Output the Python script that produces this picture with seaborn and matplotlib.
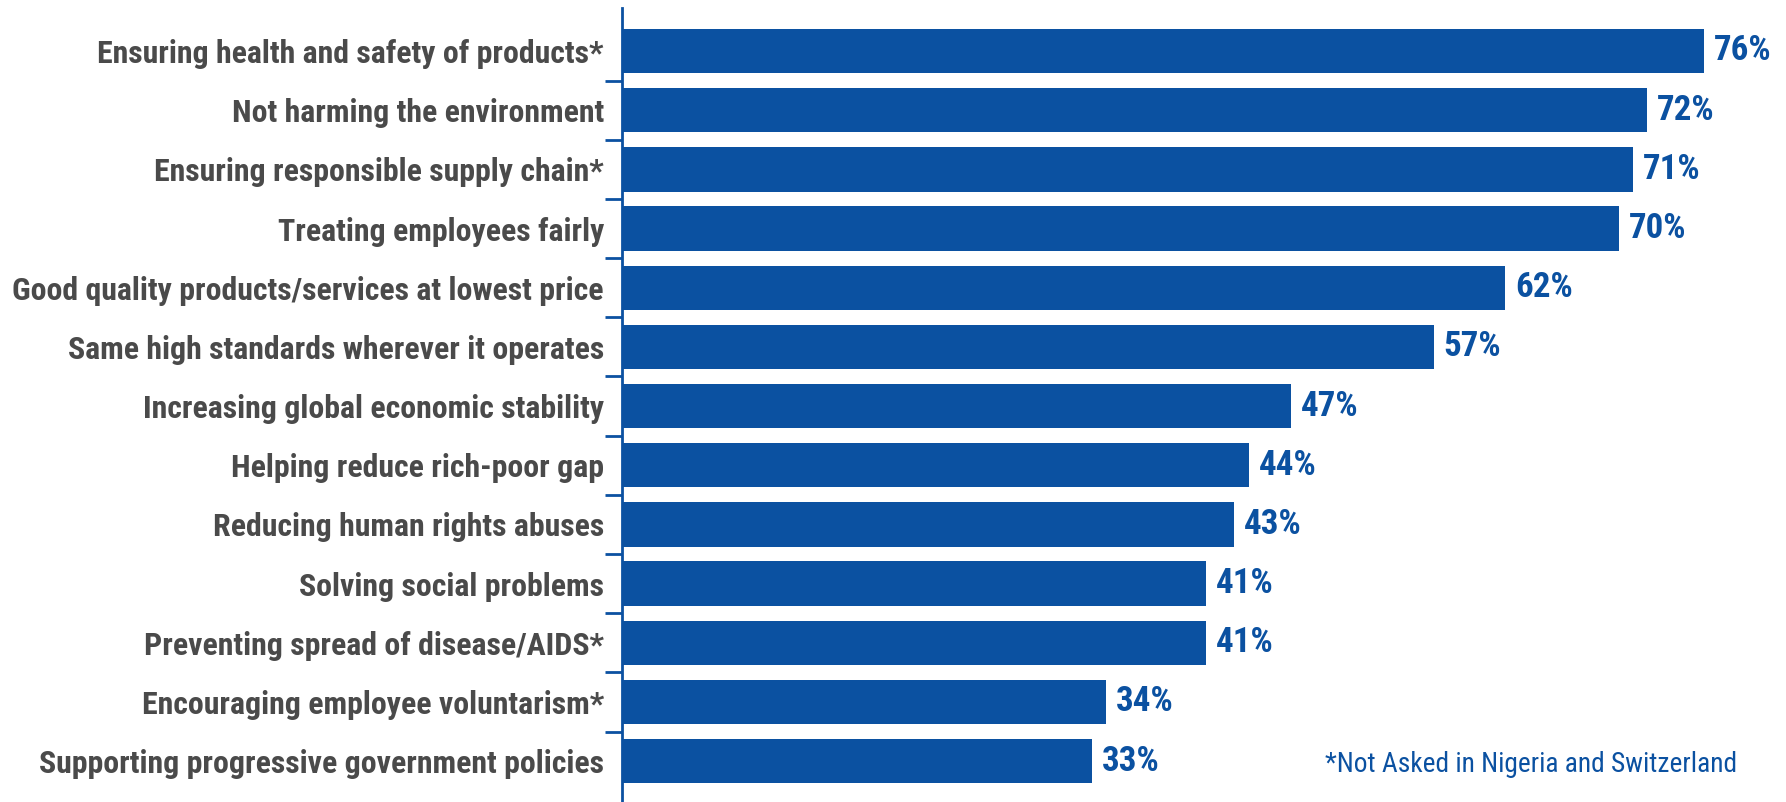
import matplotlib
matplotlib.use("Agg")
import matplotlib.pyplot as plt
import seaborn as sns
import pandas as pd
from matplotlib import font_manager as fm

categories = [
    "Ensuring health and safety of products*",
    "Not harming the environment",
    "Ensuring responsible supply chain*",
    "Treating employees fairly",
    "Good quality products/services at lowest price",
    "Same high standards wherever it operates",
    "Increasing global economic stability",
    "Helping reduce rich-poor gap",
    "Reducing human rights abuses",
    "Solving social problems",
    "Preventing spread of disease/AIDS*",
    "Encouraging employee voluntarism*",
    "Supporting progressive government policies",
]
values = [76, 72, 71, 70, 62, 57, 47, 44, 43, 41, 41, 34, 33]
value_labels = [f"{v}%" for v in values]
footnote = "*Not Asked in Nigeria and Switzerland"

sns.set_theme(style="white")

names = {f.name for f in fm.fontManager.ttflist}
fam = "DejaVu Sans"
for cand in ["Liberation Sans Narrow", "Roboto Condensed", "Open Sans Condensed"]:
    if cand in names:
        fam = cand
        break
plt.rcParams["font.family"] = [fam, "DejaVu Sans"]
STRETCH = "condensed"

BAR = "#0b51a1"
GRAY = "#4a4a4a"

df = pd.DataFrame({"cat": categories, "val": values})

fig = plt.figure(figsize=(17.86, 8.02), dpi=100)
ax = fig.add_axes([622 / 1786, 0.0, 1 - 622 / 1786, (802 - 8) / 802])
sns.barplot(data=df, y="cat", x="val", orient="h", color=BAR, width=0.75,
            saturation=1, ax=ax, edgecolor="none")

ax.set_xlim(0, (1786 - 622) / 14.24)
ax.set_ylim(12.69, -0.726)
ax.set_xlabel("")
ax.set_ylabel("")
ax.set_xticks([])
for s in ["top", "right", "bottom"]:
    ax.spines[s].set_visible(False)
ax.spines["left"].set_color(BAR)
ax.spines["left"].set_linewidth(2)

ax.set_yticks(range(len(categories)))
ticklabels = ax.set_yticklabels(categories, fontsize=21, fontweight="bold",
                                color=GRAY, fontstretch=STRETCH)
ax.tick_params(axis="y", which="major", length=0, pad=13, left=False)
ax.set_yticks([i + 0.5 for i in range(len(categories) - 1)], minor=True)
ax.tick_params(axis="y", which="minor", length=12, width=2, color=BAR,
               direction="out", left=True)

# fit label size so that widest label is ~593 px wide
fig.canvas.draw()
r = fig.canvas.get_renderer()
wmax = max(t.get_window_extent(r).width for t in ticklabels)
fs = 21 * 593 / wmax
for t in ticklabels:
    t.set_fontsize(fs)

for i, (v, lab) in enumerate(zip(values, value_labels)):
    ax.text(v + 0.7, i, lab, va="center", ha="left", fontsize=fs * 1.1,
            fontweight="bold", color=BAR, fontstretch=STRETCH)

fn = fig.text(1737 / 1786, 1 - 765 / 802, footnote, ha="right", va="center",
              fontsize=fs, color=BAR, fontstretch=STRETCH)
fig.canvas.draw()
w = fn.get_window_extent(r).width
fn.set_fontsize(fs * 412 / w)

fig.savefig("out.png", dpi=100, facecolor="white")
